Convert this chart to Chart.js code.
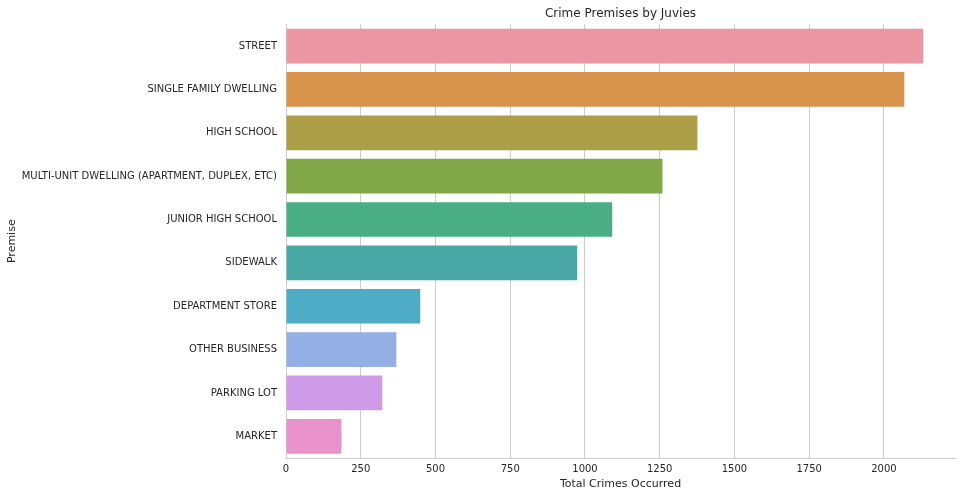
<!DOCTYPE html>
<html>
<head>
<meta charset="utf-8">
<script src="https://cdn.jsdelivr.net/npm/chart.js@4/dist/chart.umd.min.js"></script>
<style>
html,body{margin:0;padding:0;background:#fff;}
#wrap{width:962px;height:496px;position:relative;}
</style>
</head>
<body>
<div id="wrap"><canvas id="c" width="962" height="496"></canvas></div>
<script>
const categories = ["STREET","SINGLE FAMILY DWELLING","HIGH SCHOOL","MULTI-UNIT DWELLING (APARTMENT, DUPLEX, ETC)","JUNIOR HIGH SCHOOL","SIDEWALK","DEPARTMENT STORE","OTHER BUSINESS","PARKING LOT","MARKET"];
const crimeCounts = [2131, 2068, 1376, 1259, 1091, 974, 449, 369, 322, 185];
const barColors = ["#ea96a3","#d8934d","#ac9e47","#80a846","#49ae83","#4aa9a6","#4facc6","#94aee6","#cf9ae7","#e991ca"];
const xTickValues = [0, 250, 500, 750, 1000, 1250, 1500, 1750, 2000];

const FONT = "'DejaVu Sans', sans-serif";
const TXT = "#262626";
const GRID = "#cccccc";

new Chart(document.getElementById('c'), {
  type: 'bar',
  data: {
    labels: categories,
    datasets: [{
      data: crimeCounts,
      backgroundColor: barColors,
      borderWidth: 0,
      barPercentage: 0.8,
      categoryPercentage: 1.0
    }]
  },
  options: {
    indexAxis: 'y',
    responsive: false,
    animation: false,
    devicePixelRatio: 1,
    layout: { padding: { left: 6, right: 7, top: 1, bottom: 5 } },
    plugins: {
      legend: { display: false },
      tooltip: { enabled: false },
      title: {
        display: true,
        text: 'Crime Premises by Juvies',
        fullSize: false,
        color: TXT,
        font: { family: FONT, size: 12, weight: 'normal' },
        padding: { top: 6, bottom: 3 }
      }
    },
    scales: {
      x: {
        type: 'linear',
        min: 0,
        max: Math.max(...crimeCounts) * 1.05,
        border: { display: true, color: GRID, width: 1 },
        grid: { color: GRID, lineWidth: 1, drawTicks: false },
        ticks: { color: TXT, font: { family: FONT, size: 10 }, padding: 5, maxRotation: 0, autoSkip: false, callback: (v) => String(v) },
        title: { display: true, text: 'Total Crimes Occurred', color: TXT, font: { family: FONT, size: 11 }, padding: { top: 2, bottom: 0 } },
        afterBuildTicks: (s) => {
          s.ticks = xTickValues.map(v => ({ value: v }));
        },
        afterFit: (s) => { s.height = 33; }
      },
      y: {
        type: 'category',
        offset: true,
        border: { display: true, color: GRID, width: 1 },
        grid: { display: false, drawTicks: false },
        ticks: { color: TXT, font: { family: FONT, size: 10 }, padding: 9 },
        title: { display: true, text: 'Premise', color: TXT, font: { family: FONT, size: 11 }, padding: { top: 0, bottom: 0 } },
        afterFit: (s) => { s.width = 280; }
      }
    }
  }
});
</script>
</body>
</html>
